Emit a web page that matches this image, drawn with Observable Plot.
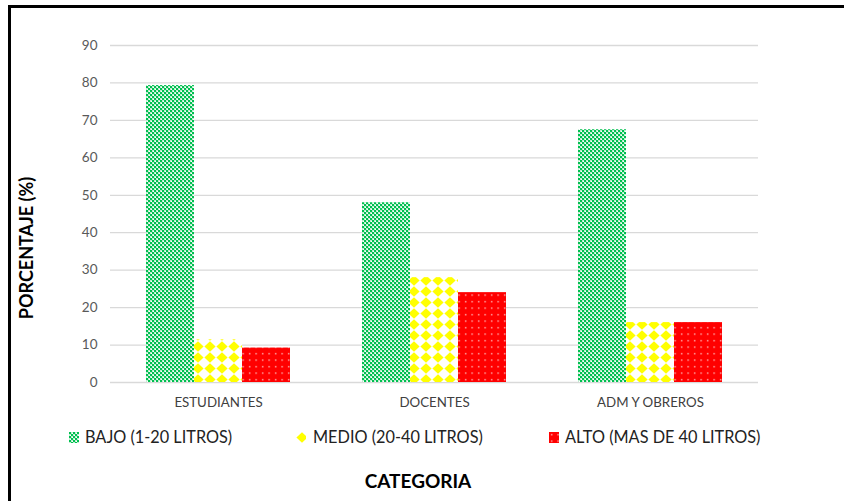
<!DOCTYPE html>
<html>
<head>
<meta charset="utf-8">
<script src="https://cdn.jsdelivr.net/npm/d3@7"></script>
<script src="https://cdn.jsdelivr.net/npm/@observablehq/plot@0.6"></script>
<style>
  html, body { margin:0; padding:0; }
  body { width:844px; height:501px; overflow:hidden; position:relative; background:#fff; font-family: Lato, "Open Sans", sans-serif; }
  #frame { position:absolute; left:8px; top:5px; width:900px; height:600px; border:3px solid #000; box-sizing:border-box; }
  #chart { position:absolute; left:0; top:0; }
  #chart g[aria-label="y-axis tick label"] { color:#595959; }
  #chart g[aria-label="fx-axis tick label"] { color:#404040; }
  .lg { position:absolute; font-size:16.3px; line-height:16px; color:#222; white-space:nowrap; }
  .sw { position:absolute; width:10px; height:11px; }
  #ylab { position:absolute; left:26px; top:248px; transform:translate(-50%,-50%) rotate(-90deg); font-weight:bold; font-size:18px; line-height:18px; white-space:nowrap; color:#000; }
  #xlab { position:absolute; left:418px; top:471px; transform:translateX(-50%); font-weight:bold; font-size:19px; line-height:19px; white-space:nowrap; color:#000; }
</style>
</head>
<body>
<div id="frame"></div>
<svg width="0" height="0" style="position:absolute">
  <defs>
    <pattern id="pBajo" width="4" height="4" patternUnits="userSpaceOnUse">
      <rect width="4" height="4" fill="#bdeccf"/>
      <rect x="0" y="0" width="2" height="2" fill="#00c050"/>
      <rect x="2" y="2" width="2" height="2" fill="#00c050"/>
      <rect x="3" y="1" width="1" height="1" fill="#ffffff"/>
      <rect x="1" y="3" width="1" height="1" fill="#ffffff"/>
    </pattern>
    <pattern id="pMedio" width="12" height="11" patternUnits="userSpaceOnUse">
      <rect width="12" height="11" fill="#ffffff"/>
      <polygon points="6,0.3 11.6,5.5 6,10.7 0.4,5.5" fill="#ffff00"/>
    </pattern>
    <pattern id="pAlto" width="6.5" height="6.5" patternUnits="userSpaceOnUse">
      <rect width="6.5" height="6.5" fill="#ff0000"/>
      <rect x="2" y="2" width="1.3" height="1.3" fill="#ffffff" fill-opacity="0.85"/>
    </pattern>
  </defs>
</svg>
<div id="chart"></div>
<div id="legend"></div>
<div id="ylab">PORCENTAJE (%)</div>
<div id="xlab">CATEGORIA</div>
<script>
const categories = ["ESTUDIANTES", "DOCENTES", "ADM Y OBREROS"];
const series = ["BAJO (1-20 LITROS)", "MEDIO (20-40 LITROS)", "ALTO (MAS DE 40 LITROS)"];
const bajo = [79.3, 48, 67.5];
const medio = [11.4, 28, 16];
const alto = [9.2, 24, 16];
const yTicks = [0, 10, 20, 30, 40, 50, 60, 70, 80, 90];
const patterns = ["url(#pBajo)", "url(#pMedio)", "url(#pAlto)"];

const values = [bajo, medio, alto];
const data = categories.flatMap((c, i) => series.map((s, j) => ({category: c, series: s, value: values[j][i]})));

const plot = Plot.plot({
  width: 844,
  height: 420,
  marginLeft: 110,
  marginRight: 86,
  marginTop: 45,
  marginBottom: 38,
  style: {fontFamily: "Lato, 'Open Sans', sans-serif", background: "transparent", overflow: "visible"},
  fx: {domain: categories, padding: 0, label: null},
  x: {domain: series, paddingInner: 0, paddingOuter: 0.75, axis: null},
  y: {domain: [0, 90]},
  color: {domain: series, range: patterns},
  marks: [
    Plot.gridY(yTicks, {stroke: "#d9d9d9", strokeOpacity: 1, strokeWidth: 1.3}),
    Plot.barY(data, {fx: "category", x: "series", y: "value", fill: "series"}),
    Plot.axisY(yTicks, {tickSize: 0, tickPadding: 13, label: null, fontSize: 13.5}),
    Plot.axisFx({anchor: "bottom", tickSize: 0, tickPadding: 15, label: null, fontSize: 13.3})
  ]
});
document.getElementById("chart").appendChild(plot);

const legend = document.getElementById("legend");
const swX = [69, 296, 549];
const txX = [85, 313, 565];
series.forEach((s, i) => {
  const sw = document.createElementNS("http://www.w3.org/2000/svg", "svg");
  sw.setAttribute("class", "sw");
  sw.setAttribute("width", 10);
  sw.setAttribute("height", 11);
  sw.style.left = swX[i] + "px";
  sw.style.top = "432px";
  const r = document.createElementNS("http://www.w3.org/2000/svg", "rect");
  r.setAttribute("width", 10); r.setAttribute("height", 11);
  r.setAttribute("fill", patterns[i]);
  sw.appendChild(r);
  legend.appendChild(sw);
  const t = document.createElement("div");
  t.className = "lg";
  t.style.left = txX[i] + "px";
  t.style.top = "429px";
  t.textContent = s;
  legend.appendChild(t);
});
</script>
</body>
</html>
